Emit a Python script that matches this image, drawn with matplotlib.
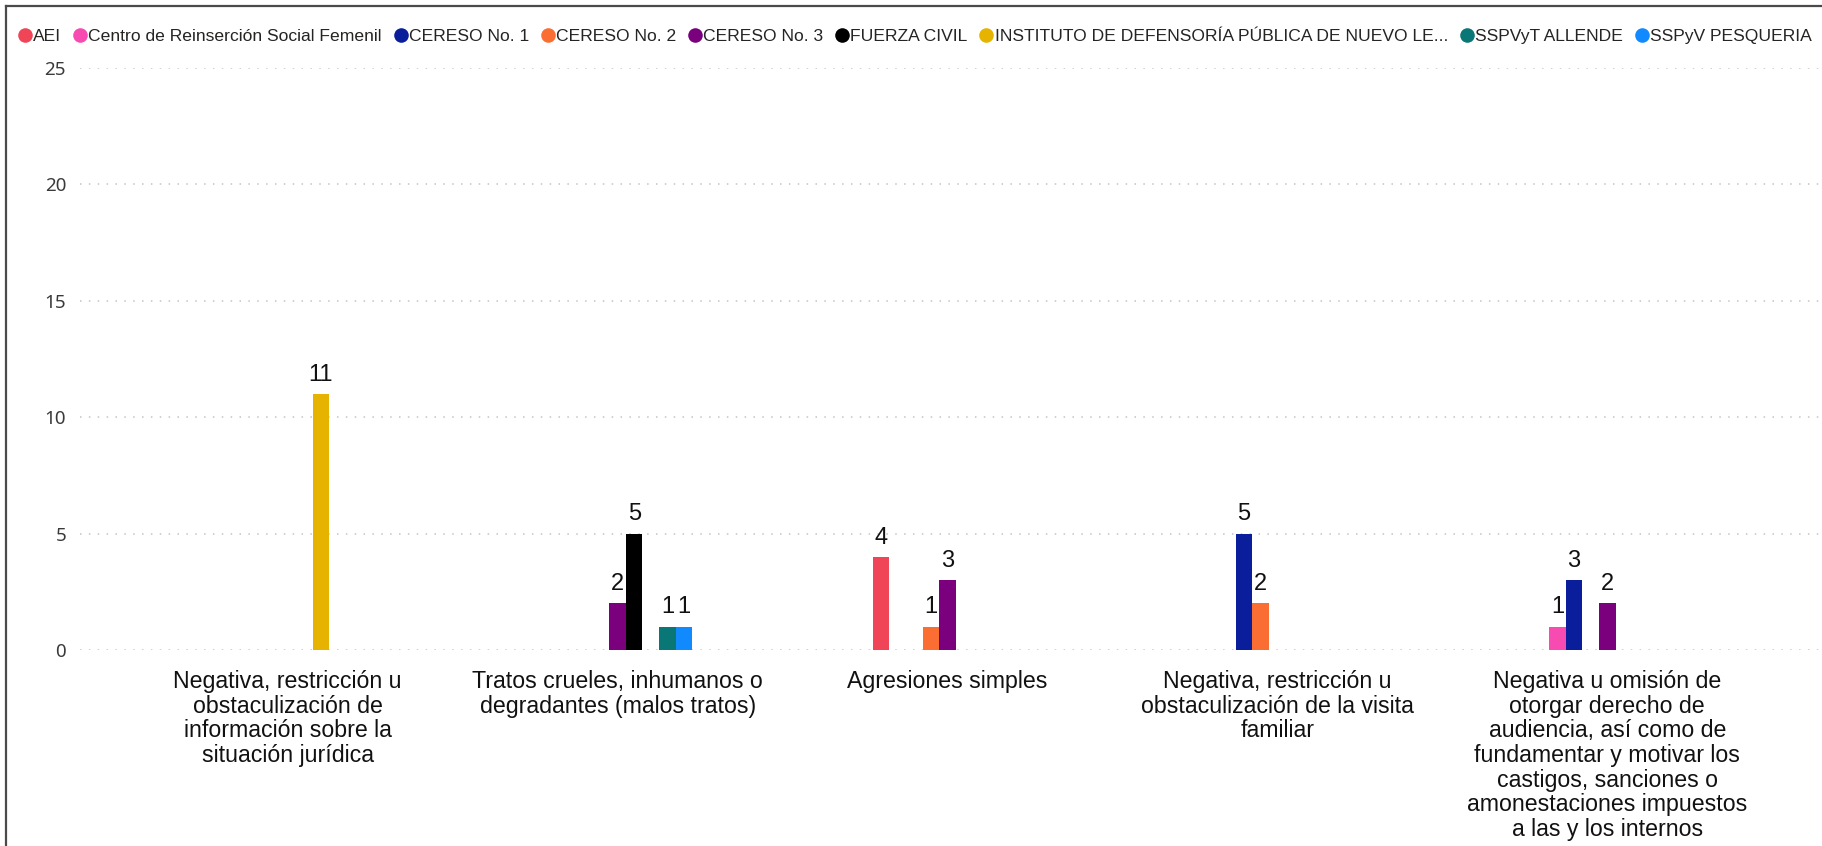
import matplotlib
matplotlib.use("Agg")
import matplotlib.pyplot as plt
from matplotlib.lines import Line2D
import numpy as np

# ---- data ----
categories = [
    "Negativa, restricción u\nobstaculización de\ninformación sobre la\nsituación jurídica",
    "Tratos crueles, inhumanos o\ndegradantes (malos tratos)",
    "Agresiones simples",
    "Negativa, restricción u\nobstaculización de la visita\nfamiliar",
    "Negativa u omisión de\notorgar derecho de\naudiencia, así como de\nfundamentar y motivar los\ncastigos, sanciones o\namonestaciones impuestos\na las y los internos",
]
series_names = [
    "AEI",
    "Centro de Reinserción Social Femenil",
    "CERESO No. 1",
    "CERESO No. 2",
    "CERESO No. 3",
    "FUERZA CIVIL",
    "INSTITUTO DE DEFENSORÍA PÚBLICA DE NUEVO LE...",
    "SSPVyT ALLENDE",
    "SSPyV PESQUERIA",
]
aei = [0, 0, 4, 0, 0]
centro_femenil = [0, 0, 0, 0, 1]
cereso1 = [0, 0, 0, 5, 3]
cereso2 = [0, 0, 1, 2, 0]
cereso3 = [0, 2, 3, 0, 2]
fuerza_civil = [0, 5, 0, 0, 0]
instituto = [11, 0, 0, 0, 0]
sspvyt_allende = [0, 1, 0, 0, 0]
sspyv_pesqueria = [0, 1, 0, 0, 0]
series_values = [aei, centro_femenil, cereso1, cereso2, cereso3,
                 fuerza_civil, instituto, sspvyt_allende, sspyv_pesqueria]
colors = ["#F04556", "#F84BB2", "#0A1E9C", "#FA6E33", "#7A007E",
          "#000000", "#E5B300", "#087775", "#1189FF"]
yticks = [0, 5, 10, 15, 20, 25]

# ---- figure ----
W, H = 1822, 846
fig = plt.figure(figsize=(W / 100, H / 100), dpi=100)
fig.patch.set_facecolor("white")

ax_left, ax_right, ax_top, ax_bottom = 80, 1822, 68, 650
ax = fig.add_axes([ax_left / W, (H - ax_bottom) / H,
                   (ax_right - ax_left) / W, (ax_bottom - ax_top) / H])

label_font = "Liberation Sans"
n_series = len(series_names)
width = 0.0503
x = np.arange(len(categories))

for i, (vals, col) in enumerate(zip(series_values, colors)):
    offs = (i - (n_series - 1) / 2) * width
    for xi, v in zip(x, vals):
        if v:
            ax.bar(xi + offs, v, width=width, color=col, zorder=3)
            ax.annotate(str(v), (xi + offs, v), xytext=(0, 6),
                        textcoords="offset points", ha="center", va="bottom",
                        fontsize=17, family=label_font, color="#111111")

ax.set_xlim(-0.6296, 4.651)
ax.set_ylim(0, 25)
ax.set_yticks(yticks)
ax.set_yticklabels([str(t) for t in yticks], family="Noto Sans",
                   fontsize=13.5, color="#3a3a3a")
ax.set_xticks(x)
ax.set_xticklabels(categories, family=label_font, fontsize=16.7,
                   color="#111111", linespacing=1.09)
ax.tick_params(axis="y", length=0, pad=10)
ax.tick_params(axis="x", length=0, pad=14.5)
ax.yaxis.grid(True, color="#C4C4C4", linestyle=(0, (1, 4.8)), linewidth=1.1)
ax.set_axisbelow(True)
for s in ax.spines.values():
    s.set_visible(False)
ax.set_facecolor("none")

# ---- legend (manual, single row) ----
fig.canvas.draw()
renderer = fig.canvas.get_renderer()
leg_y = 1 - 35 / H
xpos = 18.0
for name, col in zip(series_names, colors):
    cx = xpos + 7
    fig.add_artist(Line2D([cx / W], [leg_y], marker="o", markersize=10.5,
                          color=col, markeredgewidth=0, linestyle="none",
                          transform=fig.transFigure))
    t = fig.text((xpos + 15) / W, leg_y, name, family=label_font,
                 fontsize=12.6, color="#252423", va="center_baseline",
                 ha="left")
    bb = t.get_window_extent(renderer)
    xpos = xpos + 15 + bb.width + 12

# ---- frame (top and left borders) ----
fig.add_artist(Line2D([6 / W, 1], [1 - 6 / H, 1 - 6 / H], color="#4a4a4a",
                      linewidth=1.6, transform=fig.transFigure))
fig.add_artist(Line2D([6 / W, 6 / W], [0, 1 - 6 / H], color="#4a4a4a",
                      linewidth=1.6, transform=fig.transFigure))

fig.savefig("out.png", dpi=100, facecolor="white")
